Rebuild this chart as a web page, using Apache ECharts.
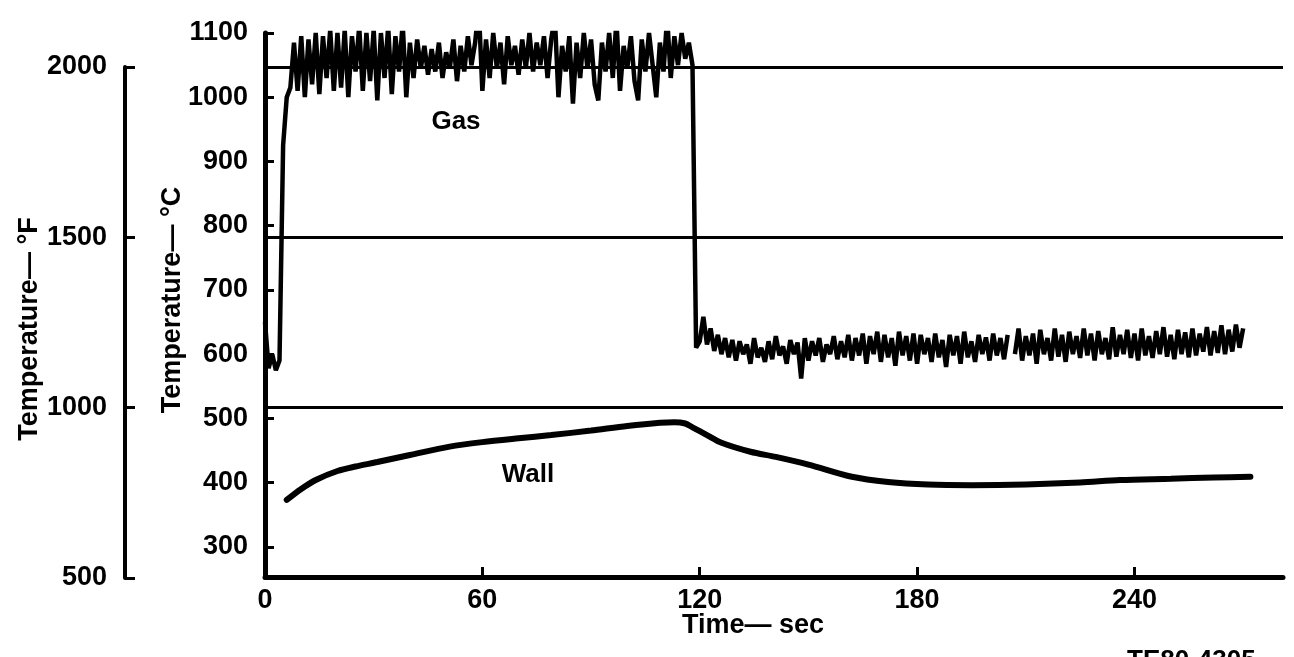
<!DOCTYPE html>
<html>
<head>
<meta charset="utf-8">
<script src="https://cdn.jsdelivr.net/npm/echarts@6/dist/echarts.min.js"></script>
<style>
html,body{margin:0;padding:0;background:#fff;}
#chart{width:1294px;height:657px;}
</style>
</head>
<body>
<div id="chart"></div>
<script>
// ---- data ----
// gas temperature, degC, sampled each second from t = 0 s (null = gap in trace)
const gasTemp = [
  650, 578, 600, 575, 590, 925, 1000, 1015, 1085, 1010,
  1095, 1000, 1090, 1020, 1100, 1005, 1095, 1030, 1105, 1010,
  1100, 1015, 1105, 1000, 1095, 1040, 1110, 1010, 1100, 1025,
  1105, 995, 1100, 1030, 1110, 1005, 1095, 1040, 1115, 1000,
  1085, 1030, 1090, 1045, 1080, 1035, 1075, 1040, 1085, 1030,
  1070, 1045, 1090, 1025, 1080, 1040, 1095, 1050, 1085, 1140,
  1010, 1090, 1030, 1100, 1045, 1085, 1020, 1095, 1050, 1080,
  1035, 1090, 1045, 1100, 1040, 1085, 1050, 1095, 1030, 1090,
  1125, 1000, 1080, 1040, 1095, 990, 1085, 1030, 1100, 1045,
  1090, 1020, 995, 1085, 1040, 1100, 1030, 1120, 1010, 1080,
  1045, 1095, 1025, 995, 1090, 1040, 1100, 1050, 1000, 1085,
  1040, 1125, 1030, 1095, 1050, 1100, 1060, 1085, 1050, 610,
  620, 658, 615, 640, 605, 630, 600, 625, 595, 622,
  590, 620, 600, 615, 585, 625, 595, 610, 588, 620,
  592, 628, 598, 612, 585, 622, 600, 618, 562, 625,
  590, 620, 598, 625, 588, 615, 600, 628, 592, 620,
  595, 630, 590, 625, 598, 632, 585, 628, 600, 635,
  588, 630, 595, 625, 582, 635, 598, 628, 590, 632,
  585, 630, 600, 625, 588, 632, 595, 622, 580, 630,
  598, 628, 585, 635, 595, 620, 588, 630, 600, 626,
  590, 632, 598, 625, 592, 630, null, 600, 640, 590,
  628, 598, 632, 585, 638, 600, 625, 590, 640, 596,
  630, 588, 635, 600, 628, 594, 640, 598, 632, 590,
  636, 600, 625, 592, 642, 596, 630, 600, 638, 594,
  632, 590, 640, 598, 628, 594, 636, 600, 642, 596,
  630, 592, 638, 600, 634, 595, 640, 598, 632, 604,
  642, 598, 636, 602, 645, 600, 638, 604, 646, 610,
  640
];
const gasStep = 1; // seconds between gas samples

const wallTime = [6, 10, 14, 20, 25, 31, 40, 51, 60, 70, 79, 90, 100, 109, 113, 116, 118, 122, 126, 134, 141, 150, 162, 172, 183, 195, 210, 225, 236, 250, 262, 272];
const wallTemp = [373, 390, 404, 418, 425, 432, 443, 456, 463, 469, 474, 481, 488, 493, 494, 492, 486, 474, 462, 448, 440, 428, 409, 401, 397, 396, 397, 400, 404, 406, 408, 409];

const timeTicks = [0, 60, 120, 180, 240];
const celsiusTicks = [300, 400, 500, 600, 700, 800, 900, 1000, 1100];
const fahrenheitTicks = [500, 1000, 1500, 2000];

// ---- chart ----
const numFont = "Liberation Sans";
const txtFont = "Liberation Sans";
const plain = v => String(v);

const gasData = gasTemp.map((v, i) => [i * gasStep, v]);
const wallData = wallTime.map((t, i) => [t, wallTemp[i]]);

const chart = echarts.init(document.getElementById('chart'), null, {renderer: 'canvas'});
chart.setOption({
  backgroundColor: '#ffffff',
  animation: false,
  grid: [
    {left: 265, right: 11, top: 33, bottom: 80},
    {left: 265, right: 11, top: 67, bottom: 79}
  ],
  xAxis: [
    {
      type: 'value', gridIndex: 0, min: 0, max: 281,
      axisLine: {show: true, onZero: false, lineStyle: {color: '#000', width: 5}},
      axisTick: {show: true, inside: true, length: 10, lineStyle: {color: '#000', width: 3},
                 customValues: timeTicks.filter(v => v > 0)},
      axisLabel: {show: true, customValues: timeTicks, margin: 10, color: '#000', formatter: plain,
                  fontFamily: numFont, fontWeight: 'bold', fontSize: 27},
      splitLine: {show: false}
    },
    {type: 'value', gridIndex: 1, min: 0, max: 1, show: false}
  ],
  yAxis: [
    {
      type: 'value', gridIndex: 0, min: 253, max: 1100, position: 'left',
      axisLine: {show: true, onZero: false, lineStyle: {color: '#000', width: 5}},
      axisTick: {show: true, inside: true, length: 9, lineStyle: {color: '#000', width: 3},
                 customValues: celsiusTicks},
      axisLabel: {show: true, customValues: celsiusTicks, margin: 17, color: '#000', formatter: plain,
                  fontFamily: numFont, fontWeight: 'bold', fontSize: 27},
      splitLine: {show: false}
    },
    {
      type: 'value', gridIndex: 1, min: 500, max: 2000, interval: 500, position: 'left', offset: 140,
      axisLine: {show: true, onZero: false, lineStyle: {color: '#000', width: 4}},
      axisTick: {show: true, inside: true, length: 10, lineStyle: {color: '#000', width: 3},
                 customValues: fahrenheitTicks},
      axisLabel: {show: true, customValues: fahrenheitTicks, margin: 18, color: '#000', formatter: plain,
                  fontFamily: numFont, fontWeight: 'bold', fontSize: 27},
      splitLine: {show: true, lineStyle: {color: '#000', width: 3}}
    }
  ],
  series: [
    {
      name: 'Gas', type: 'line', xAxisIndex: 0, yAxisIndex: 0,
      data: gasData, showSymbol: false, connectNulls: false,
      lineStyle: {color: '#000', width: 4.5}, z: 3
    },
    {
      name: 'Wall', type: 'line', xAxisIndex: 0, yAxisIndex: 0,
      data: wallData, showSymbol: false, smooth: 0.3,
      lineStyle: {color: '#000', width: 6, cap: 'round'}, z: 3
    }
  ],
  graphic: [
    {type: 'text', x: 30, y: 329, rotation: Math.PI / 2,
     style: {text: 'Temperature\u2014 \u00B0F', fill: '#000', fontFamily: txtFont, fontWeight: 'bold', fontSize: 27,
             align: 'center', verticalAlign: 'middle'}},
    {type: 'text', x: 173, y: 300, rotation: Math.PI / 2,
     style: {text: 'Temperature\u2014 \u00B0C', fill: '#000', fontFamily: txtFont, fontWeight: 'bold', fontSize: 27,
             align: 'center', verticalAlign: 'middle'}},
    {type: 'text', x: 753, y: 626,
     style: {text: 'Time\u2014 sec', fill: '#000', fontFamily: txtFont, fontWeight: 'bold', fontSize: 27,
             align: 'center', verticalAlign: 'middle'}},
    {type: 'text', x: 456, y: 122,
     style: {text: 'Gas', fill: '#000', fontFamily: txtFont, fontWeight: 'bold', fontSize: 26,
             align: 'center', verticalAlign: 'middle'}},
    {type: 'text', x: 528, y: 475,
     style: {text: 'Wall', fill: '#000', fontFamily: txtFont, fontWeight: 'bold', fontSize: 26,
             align: 'center', verticalAlign: 'middle'}},
    {type: 'text', x: 1127, y: 648,
     style: {text: 'TE80-4305', fill: '#000', fontFamily: txtFont, fontWeight: 'bold', fontSize: 26,
             align: 'left', verticalAlign: 'top'}}
  ]
});
</script>
</body>
</html>
